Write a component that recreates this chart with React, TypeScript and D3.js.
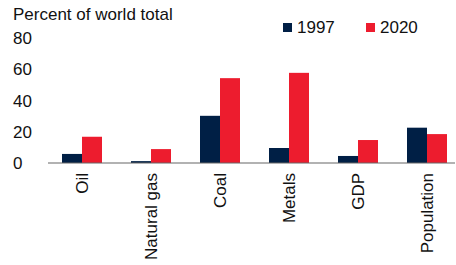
import React, { useRef, useEffect } from "react";
import * as d3 from "d3";

const categories = ["Oil", "Natural gas", "Coal", "Metals", "GDP", "Population"];
const seriesNames = ["1997", "2020"];
const values1997 = [5.8, 1.2, 30.2, 9.6, 4.5, 22.6];
const values2020 = [16.8, 8.9, 54.3, 57.7, 14.7, 18.5];
const yTicks = [0, 20, 40, 60, 80];
const colors = ["#001f45", "#ed1c2e"];

const W = 456;
const H = 265;
const FONT = "'Liberation Sans', Arial, sans-serif";

const App = () => {
  const ref = useRef<SVGSVGElement>(null);

  useEffect(() => {
    const svg = d3.select(ref.current);
    svg.selectAll("*").remove();

    const x = d3.scaleBand<string>().domain(categories).range([47.5, 461.5]).paddingInner(0).paddingOuter(0);
    const x1 = d3.scaleBand<string>().domain(seriesNames).range([0, 40]);
    const y = d3.scaleLinear().domain([0, 80]).range([163, 38]);

    const series = [values1997, values2020];

    // bars
    const g = svg.append("g");
    categories.forEach((c, i) => {
      const cx = (x(c) as number) + x.bandwidth() / 2 - 20;
      series.forEach((vals, s) => {
        g.append("rect")
          .attr("x", cx + (x1(seriesNames[s]) as number))
          .attr("y", y(vals[i]))
          .attr("width", x1.bandwidth())
          .attr("height", y(0) - y(vals[i]))
          .attr("fill", colors[s]);
      });
    });

    // axis line
    svg.append("line")
      .attr("x1", 48).attr("x2", 455)
      .attr("y1", y(0)).attr("y2", y(0))
      .attr("stroke", "#666").attr("stroke-width", 1.2);

    // y tick labels
    svg.append("g").selectAll("text").data(yTicks).join("text")
      .attr("x", 13)
      .attr("y", (d) => y(d))
      .attr("dy", "0.36em")
      .attr("font-family", FONT)
      .attr("font-size", 17)
      .attr("fill", "#111")
      .text((d) => d);

    // category labels
    svg.append("g").selectAll("text").data(categories).join("text")
      .attr("transform", (d) => `translate(${(x(d) as number) + x.bandwidth() / 2},173) rotate(-90)`)
      .attr("text-anchor", "end")
      .attr("dy", "0.36em")
      .attr("font-family", FONT)
      .attr("font-size", 17)
      .attr("fill", "#111")
      .text((d) => d);

    // title
    svg.append("text")
      .attr("x", 13).attr("y", 20)
      .attr("font-family", FONT)
      .attr("font-size", 17)
      .attr("fill", "#111")
      .text("Percent of world total");

    // legend
    const legX = [283, 366];
    seriesNames.forEach((n, s) => {
      svg.append("rect")
        .attr("x", legX[s]).attr("y", 23)
        .attr("width", 9).attr("height", 9)
        .attr("fill", colors[s]);
      svg.append("text")
        .attr("x", legX[s] + 14).attr("y", 33)
        .attr("font-family", FONT)
        .attr("font-size", 17)
        .attr("fill", "#111")
        .text(n);
    });
  }, []);

  return (
    <svg
      ref={ref}
      width={W}
      height={H}
      style={{ position: "absolute", left: 0, top: 0, background: "#fff" }}
    />
  );
};

export default App;
